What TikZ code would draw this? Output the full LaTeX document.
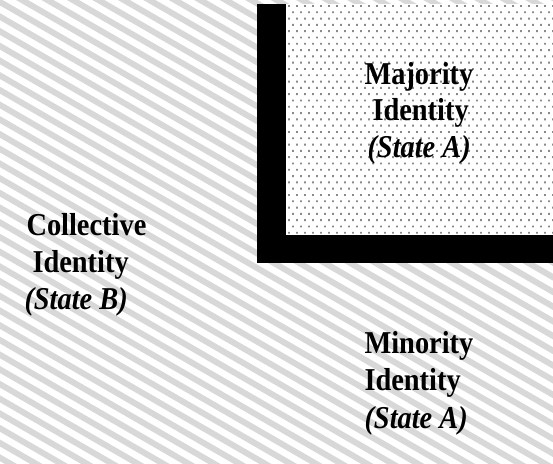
\documentclass[tikz,border=0pt]{standalone}
\usepackage{fontspec}
\setmainfont{Liberation Serif}
\definecolor{hatchgray}{HTML}{D8D8D8}
\definecolor{dotgray}{HTML}{8A8A8A}
\newcommand{\tall}[1]{\scalebox{1}[1.12]{#1}}
\tikzset{
  lbl/.style={inner sep=0pt, outer sep=0pt, anchor=base west,
    font=\fontsize{28.4}{37}\selectfont\bfseries},
  hatchline/.style={draw=hatchgray, line width=6pt},
}
\begin{document}
\begin{tikzpicture}[x=1pt,y=-1pt]
\useasboundingbox (0,0) rectangle (553,463);
% hatched background
\begin{scope}
\clip (0,0) rectangle (553,463);
\foreach \k in {-24,...,33} {
  \draw[hatchline] (-10,{2+14.7*\k-5.77}) -- (563,{2+14.7*\k+325.05});
}
\end{scope}
% dotted region
\fill[white] (285.7,4) rectangle (553,235);
\begin{scope}
\clip (285.7,4) rectangle (553,235);
\fill[dotgray] \foreach \j in {0,2,...,36} {
  \foreach \i in {0,...,34} { ({288+8*\i},{5+6.3*\j}) rectangle ++(1.9,1.9) }
};
\fill[dotgray] \foreach \j in {1,3,...,37} {
  \foreach \i in {0,...,34} { ({292+8*\i},{5+6.3*\j}) rectangle ++(1.9,1.9) }
};
\end{scope}
% black L-shaped frame
\fill[black] (257,4) rectangle (285.7,262.7);
\fill[black] (257,235) rectangle (553,262.7);
% texts
\node[lbl] (maj1) at (364.5,84) {\tall{Majority}};
\node[lbl] (maj2) at (372.5,120.5) {\tall{Identity}};
\node[lbl] (maj3) at (367.5,157) {\tall{\itshape (State A)}};
\node[lbl] (col1) at (26.5,235) {\tall{Collective}};
\node[lbl] (col2) at (32.5,272) {\tall{Identity}};
\node[lbl] (col3) at (24.5,309) {\tall{\itshape (State B)}};
\node[lbl] (min1) at (364.5,353) {\tall{Minority}};
\node[lbl] (min2) at (364.5,390.5) {\tall{Identity}};
\node[lbl] (min3) at (364.5,428) {\tall{\itshape (State A)}};
\end{tikzpicture}
\end{document}
